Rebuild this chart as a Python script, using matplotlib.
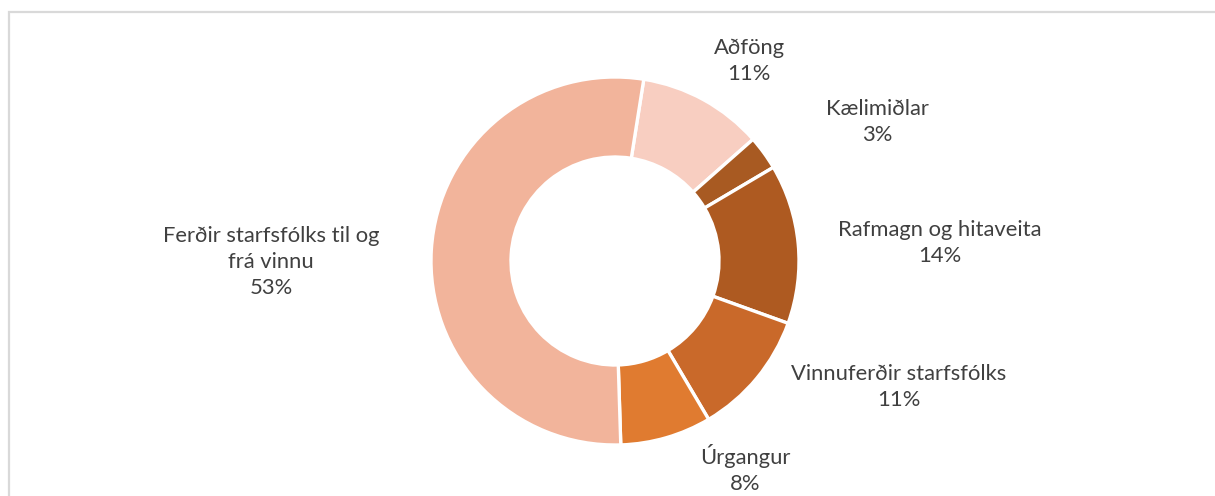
"""Donut chart: losun eftir flokkum."""

import matplotlib

matplotlib.use("Agg")
import matplotlib.pyplot as plt

labels = ["Aðföng", "Kælimiðlar", "Rafmagn og hitaveita",
          "Vinnuferðir starfsfólks", "Úrgangur",
          "Ferðir starfsfólks til og\nfrá vinnu"]
shares = [11, 3, 14, 11, 8, 53]

colors = ["#F8CEC1", "#A85A22", "#AE5A21", "#C9692A", "#E07B30", "#F2B49B"]
# label centres in image pixels (x, y from top)
label_pos = [(749, 61), (877, 122), (940, 243), (899, 387), (745, 469), (271, 262)]

W, H = 1215, 496
fig = plt.figure(figsize=(W / 100, H / 100), dpi=100)
ax = fig.add_axes([0, 0, 1, 1])

cx, cy, r_out, r_in = 615, H - 261, 184, 104
ax.pie(shares, colors=colors, startangle=81, counterclock=False,
       center=(cx, cy), radius=r_out, frame=True,
       wedgeprops=dict(width=r_out - r_in, edgecolor="white", linewidth=2.4))
ax.set_xlim(0, W)
ax.set_ylim(0, H)
ax.set_aspect("equal")
ax.axis("off")

for lab, val, (x, y) in zip(labels, shares, label_pos):
    ax.text(x, H - y, f"{lab}\n{val}%", ha="center", va="center",
            fontsize=15.8, family="Lato", color="#404040", linespacing=1.4)

# chart-area border (only left and top are inside the image)
ax.plot([9, 9, W], [0, H - 12, H - 12], color="#D9D9D9", lw=1.6,
        solid_joinstyle="miter", clip_on=False)

fig.savefig("out.png", dpi=100)
